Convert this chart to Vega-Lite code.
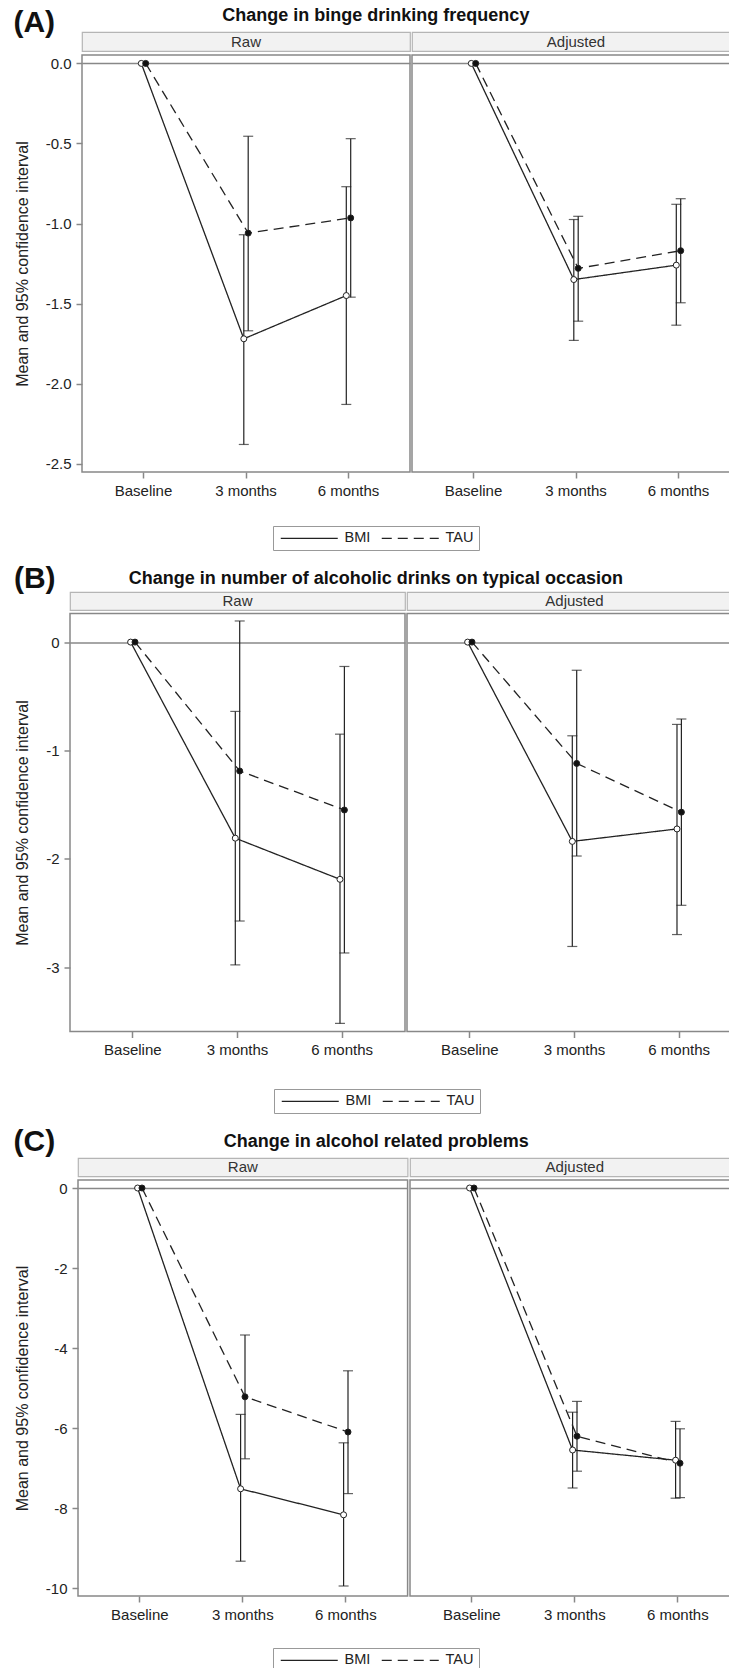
{
  "$schema": "https://vega.github.io/schema/vega-lite/v6.json",
  "padding": {"left": 12, "top": 7, "right": 0, "bottom": 0},
  "spacing": 13,
  "columns": 1,
  "align": "none",
  "config": {
    "font": "Liberation Sans",
    "locale": {"number": {"decimal": ".", "thousands": ",", "grouping": [3], "currency": ["$", ""], "minus": "-"}},
    "view": {"stroke": "#888", "strokeWidth": 1.5},
    "axis": {"labelFontSize": 15, "labelColor": "#222", "tickColor": "#888", "tickWidth": 1.5, "tickSize": 6, "labelPadding": 5, "domain": false, "titleFontSize": 16, "titleFontWeight": "normal", "titleColor": "#222", "titlePadding": 15, "labelAngle": 0},
    "title": {"font": "Liberation Sans", "fontSize": 18, "fontWeight": "bold", "color": "#111"},
    "legend": {"orient": "bottom", "direction": "horizontal", "labelFontSize": 14.5, "labelColor": "#222", "strokeColor": "#999", "padding": 5, "offset": 27, "layout": {"bottom": {"anchor": "middle"}}}
  },
  "resolve": {"scale": {"strokeDash": "independent", "fill": "independent"}, "legend": {"strokeDash": "independent", "fill": "independent"}},
  "datasets": {
    "s": [
      {"panel": "A", "facet": "Raw"}, {"panel": "A", "facet": "Adjusted"},
      {"panel": "B", "facet": "Raw"}, {"panel": "B", "facet": "Adjusted"},
      {"panel": "C", "facet": "Raw"}, {"panel": "C", "facet": "Adjusted"}
    ],
    "d": [
      {"panel": "A", "facet": "Raw", "time": "Baseline", "group": "BMI", "mean": 0, "lower": null, "upper": null},
      {"panel": "A", "facet": "Raw", "time": "3 months", "group": "BMI", "mean": -1.72, "lower": -2.38, "upper": -1.07},
      {"panel": "A", "facet": "Raw", "time": "6 months", "group": "BMI", "mean": -1.45, "lower": -2.13, "upper": -0.77},
      {"panel": "A", "facet": "Raw", "time": "Baseline", "group": "TAU", "mean": 0, "lower": null, "upper": null},
      {"panel": "A", "facet": "Raw", "time": "3 months", "group": "TAU", "mean": -1.06, "lower": -1.67, "upper": -0.455},
      {"panel": "A", "facet": "Raw", "time": "6 months", "group": "TAU", "mean": -0.965, "lower": -1.46, "upper": -0.47},
      {"panel": "A", "facet": "Adjusted", "time": "Baseline", "group": "BMI", "mean": 0, "lower": null, "upper": null},
      {"panel": "A", "facet": "Adjusted", "time": "3 months", "group": "BMI", "mean": -1.35, "lower": -1.73, "upper": -0.975},
      {"panel": "A", "facet": "Adjusted", "time": "6 months", "group": "BMI", "mean": -1.26, "lower": -1.635, "upper": -0.88},
      {"panel": "A", "facet": "Adjusted", "time": "Baseline", "group": "TAU", "mean": 0, "lower": null, "upper": null},
      {"panel": "A", "facet": "Adjusted", "time": "3 months", "group": "TAU", "mean": -1.28, "lower": -1.61, "upper": -0.955},
      {"panel": "A", "facet": "Adjusted", "time": "6 months", "group": "TAU", "mean": -1.17, "lower": -1.495, "upper": -0.845},
      {"panel": "B", "facet": "Raw", "time": "Baseline", "group": "BMI", "mean": 0, "lower": null, "upper": null},
      {"panel": "B", "facet": "Raw", "time": "3 months", "group": "BMI", "mean": -1.81, "lower": -2.98, "upper": -0.64},
      {"panel": "B", "facet": "Raw", "time": "6 months", "group": "BMI", "mean": -2.19, "lower": -3.52, "upper": -0.85},
      {"panel": "B", "facet": "Raw", "time": "Baseline", "group": "TAU", "mean": 0, "lower": null, "upper": null},
      {"panel": "B", "facet": "Raw", "time": "3 months", "group": "TAU", "mean": -1.19, "lower": -2.575, "upper": 0.195},
      {"panel": "B", "facet": "Raw", "time": "6 months", "group": "TAU", "mean": -1.55, "lower": -2.87, "upper": -0.225},
      {"panel": "B", "facet": "Adjusted", "time": "Baseline", "group": "BMI", "mean": 0, "lower": null, "upper": null},
      {"panel": "B", "facet": "Adjusted", "time": "3 months", "group": "BMI", "mean": -1.84, "lower": -2.81, "upper": -0.865},
      {"panel": "B", "facet": "Adjusted", "time": "6 months", "group": "BMI", "mean": -1.725, "lower": -2.7, "upper": -0.76},
      {"panel": "B", "facet": "Adjusted", "time": "Baseline", "group": "TAU", "mean": 0, "lower": null, "upper": null},
      {"panel": "B", "facet": "Adjusted", "time": "3 months", "group": "TAU", "mean": -1.12, "lower": -1.975, "upper": -0.26},
      {"panel": "B", "facet": "Adjusted", "time": "6 months", "group": "TAU", "mean": -1.57, "lower": -2.43, "upper": -0.71},
      {"panel": "C", "facet": "Raw", "time": "Baseline", "group": "BMI", "mean": 0, "lower": null, "upper": null},
      {"panel": "C", "facet": "Raw", "time": "3 months", "group": "BMI", "mean": -7.52, "lower": -9.33, "upper": -5.66},
      {"panel": "C", "facet": "Raw", "time": "6 months", "group": "BMI", "mean": -8.17, "lower": -9.95, "upper": -6.37},
      {"panel": "C", "facet": "Raw", "time": "Baseline", "group": "TAU", "mean": 0, "lower": null, "upper": null},
      {"panel": "C", "facet": "Raw", "time": "3 months", "group": "TAU", "mean": -5.22, "lower": -6.77, "upper": -3.675},
      {"panel": "C", "facet": "Raw", "time": "6 months", "group": "TAU", "mean": -6.1, "lower": -7.64, "upper": -4.57},
      {"panel": "C", "facet": "Adjusted", "time": "Baseline", "group": "BMI", "mean": 0, "lower": null, "upper": null},
      {"panel": "C", "facet": "Adjusted", "time": "3 months", "group": "BMI", "mean": -6.55, "lower": -7.5, "upper": -5.605},
      {"panel": "C", "facet": "Adjusted", "time": "6 months", "group": "BMI", "mean": -6.805, "lower": -7.755, "upper": -5.835},
      {"panel": "C", "facet": "Adjusted", "time": "Baseline", "group": "TAU", "mean": 0, "lower": null, "upper": null},
      {"panel": "C", "facet": "Adjusted", "time": "3 months", "group": "TAU", "mean": -6.205, "lower": -7.08, "upper": -5.335},
      {"panel": "C", "facet": "Adjusted", "time": "6 months", "group": "TAU", "mean": -6.88, "lower": -7.74, "upper": -6.02}
    ]
  },
  "concat": [
    {
      "title": {"text": "Change in binge drinking frequency", "anchor": "middle", "frame": "bounds", "offset": -17, "dx": -0.5},
      "spacing": 0,
      "hconcat": [
        {"width": 1, "height": 1, "data": {"values": [{}]}, "mark": {"type": "text"}, "encoding": {"text": {"value": ""}}, "view": {"stroke": null}},
        {
          "title": {"text": "(A)", "anchor": "start", "frame": "bounds", "fontSize": 30, "offset": -7},
          "spacing": 2,
          "vconcat": [
            {"width": 328, "height": 19, "data": {"name": "s"}, "transform": [{"filter": "datum.panel == 'A' && datum.facet == 'Raw'"}], "view": {"fill": "#f2f2f2", "stroke": "#b5b5b5", "strokeWidth": 1.2}, "mark": {"type": "text", "fontSize": 15, "color": "#333"}, "encoding": {"text": {"field": "facet"}}},
            {
              "width": 328, "height": 417,
              "data": {"name": "d"},
              "transform": [{"filter": "datum.panel == 'A' && datum.facet == 'Raw'"}],
              "encoding": {
                "x": {"field": "time", "type": "nominal", "sort": ["Baseline", "3 months", "6 months"], "title": null, "scale": {"type": "band", "paddingInner": 0.914146, "paddingOuter": 0.557073, "round": false}},
                "xOffset": {"field": "group", "type": "nominal", "scale": {"paddingInner": 0, "paddingOuter": 0}}
              },
              "layer": [
                {"transform": [{"filter": "datum.lower != null"}], "mark": {"type": "rule", "color": "#222", "strokeWidth": 1.2},
                 "encoding": {"y": {"field": "lower", "type": "quantitative", "title": "Mean and 95% confidence interval", "scale": {"domain": [-2.552, 0.0525], "nice": false, "zero": false}, "axis": {"values": [0, -0.5, -1, -1.5, -2, -2.5], "format": ".1f", "grid": true, "gridColor": "#888", "gridWidth": 1.5, "gridOpacity": {"condition": {"test": "datum.value == 0", "value": 1}, "value": 0}}}, "y2": {"field": "upper"}}},
                {"transform": [{"filter": "datum.lower != null"}], "mark": {"type": "tick", "size": 10, "thickness": 1.2, "color": "#222"},
                 "encoding": {"y": {"field": "lower", "type": "quantitative", "title": "Mean and 95% confidence interval", "scale": {"domain": [-2.552, 0.0525], "nice": false, "zero": false}}}},
                {"transform": [{"filter": "datum.lower != null"}], "mark": {"type": "tick", "size": 10, "thickness": 1.2, "color": "#222"},
                 "encoding": {"y": {"field": "upper", "type": "quantitative", "title": "Mean and 95% confidence interval", "scale": {"domain": [-2.552, 0.0525], "nice": false, "zero": false}}}},
                {"mark": {"type": "line", "color": "#222", "strokeWidth": 1.3},
                 "encoding": {"y": {"field": "mean", "type": "quantitative", "title": "Mean and 95% confidence interval", "scale": {"domain": [-2.552, 0.0525], "nice": false, "zero": false}},
                   "strokeDash": {"field": "group", "type": "nominal", "scale": {"domain": ["BMI", "TAU"], "range": [[1, 0], [10, 6]]}, "legend": {"title": null, "symbolType": "M-5.7,0H5.7", "symbolSize": 100, "symbolStrokeWidth": 1.3, "symbolStrokeColor": "#222", "symbolOffset": 24, "labelOffset": 28, "columnPadding": 8}}}},
                {"mark": {"type": "point", "filled": true, "size": 36, "stroke": "#222", "strokeWidth": 1, "opacity": 1},
                 "encoding": {"y": {"field": "mean", "type": "quantitative", "title": "Mean and 95% confidence interval", "scale": {"domain": [-2.552, 0.0525], "nice": false, "zero": false}},
                   "fill": {"field": "group", "type": "nominal", "scale": {"domain": ["BMI", "TAU"], "range": ["#ffffff", "#111111"]}, "legend": null}}}
              ]
            }
          ]
        },
        {
          "spacing": 2,
          "vconcat": [
            {"width": 328, "height": 19, "data": {"name": "s"}, "transform": [{"filter": "datum.panel == 'A' && datum.facet == 'Adjusted'"}], "view": {"fill": "#f2f2f2", "stroke": "#b5b5b5", "strokeWidth": 1.2}, "mark": {"type": "text", "fontSize": 15, "color": "#333"}, "encoding": {"text": {"field": "facet"}}},
            {
              "width": 328, "height": 417,
              "data": {"name": "d"},
              "transform": [{"filter": "datum.panel == 'A' && datum.facet == 'Adjusted'"}],
              "encoding": {
                "x": {"field": "time", "type": "nominal", "sort": ["Baseline", "3 months", "6 months"], "title": null, "scale": {"type": "band", "paddingInner": 0.914146, "paddingOuter": 0.557073, "round": false}},
                "xOffset": {"field": "group", "type": "nominal", "scale": {"paddingInner": 0, "paddingOuter": 0}}
              },
              "layer": [
                {"transform": [{"filter": "datum.lower != null"}], "mark": {"type": "rule", "color": "#222", "strokeWidth": 1.2},
                 "encoding": {"y": {"field": "lower", "type": "quantitative", "title": null, "scale": {"domain": [-2.552, 0.0525], "nice": false, "zero": false}, "axis": {"values": [0], "labels": false, "ticks": false, "title": null, "grid": true, "gridColor": "#888", "gridWidth": 1.5}}, "y2": {"field": "upper"}}},
                {"transform": [{"filter": "datum.lower != null"}], "mark": {"type": "tick", "size": 10, "thickness": 1.2, "color": "#222"},
                 "encoding": {"y": {"field": "lower", "type": "quantitative", "title": null, "scale": {"domain": [-2.552, 0.0525], "nice": false, "zero": false}}}},
                {"transform": [{"filter": "datum.lower != null"}], "mark": {"type": "tick", "size": 10, "thickness": 1.2, "color": "#222"},
                 "encoding": {"y": {"field": "upper", "type": "quantitative", "title": null, "scale": {"domain": [-2.552, 0.0525], "nice": false, "zero": false}}}},
                {"mark": {"type": "line", "color": "#222", "strokeWidth": 1.3},
                 "encoding": {"y": {"field": "mean", "type": "quantitative", "title": null, "scale": {"domain": [-2.552, 0.0525], "nice": false, "zero": false}},
                   "strokeDash": {"field": "group", "type": "nominal", "scale": {"domain": ["BMI", "TAU"], "range": [[1, 0], [10, 6]]}, "legend": {"title": null, "symbolType": "M-5.7,0H5.7", "symbolSize": 100, "symbolStrokeWidth": 1.3, "symbolStrokeColor": "#222", "symbolOffset": 24, "labelOffset": 28, "columnPadding": 8}}}},
                {"mark": {"type": "point", "filled": true, "size": 36, "stroke": "#222", "strokeWidth": 1, "opacity": 1},
                 "encoding": {"y": {"field": "mean", "type": "quantitative", "title": null, "scale": {"domain": [-2.552, 0.0525], "nice": false, "zero": false}},
                   "fill": {"field": "group", "type": "nominal", "scale": {"domain": ["BMI", "TAU"], "range": ["#ffffff", "#111111"]}, "legend": null}}}
              ]
            }
          ]
        }
      ]
    },
    {
      "title": {"text": "Change in number of alcoholic drinks on typical occasion", "anchor": "middle", "frame": "bounds", "offset": -24, "dx": -1.5},
      "spacing": 0,
      "hconcat": [
        {"width": 1, "height": 1, "data": {"values": [{}]}, "mark": {"type": "text"}, "encoding": {"text": {"value": ""}}, "view": {"stroke": null}},
        {
          "title": {"text": "(B)", "anchor": "start", "frame": "bounds", "fontSize": 30, "offset": -3},
          "spacing": 1.5,
          "vconcat": [
            {"width": 335, "height": 18, "data": {"name": "s"}, "transform": [{"filter": "datum.panel == 'B' && datum.facet == 'Raw'"}], "view": {"fill": "#f2f2f2", "stroke": "#b5b5b5", "strokeWidth": 1.2}, "mark": {"type": "text", "fontSize": 15, "color": "#333"}, "encoding": {"text": {"field": "facet"}}},
            {
              "width": 335, "height": 418,
              "data": {"name": "d"},
              "transform": [{"filter": "datum.panel == 'B' && datum.facet == 'Raw'"}],
              "encoding": {
                "x": {"field": "time", "type": "nominal", "sort": ["Baseline", "3 months", "6 months"], "title": null, "scale": {"type": "band", "paddingInner": 0.91595, "paddingOuter": 0.557975, "round": false}},
                "xOffset": {"field": "group", "type": "nominal", "scale": {"paddingInner": 0, "paddingOuter": 0}}
              },
              "layer": [
                {"transform": [{"filter": "datum.lower != null"}], "mark": {"type": "rule", "color": "#222", "strokeWidth": 1.2},
                 "encoding": {"y": {"field": "lower", "type": "quantitative", "title": "Mean and 95% confidence interval", "scale": {"domain": [-3.595, 0.264], "nice": false, "zero": false}, "axis": {"values": [0, -1, -2, -3], "format": "d", "grid": true, "gridColor": "#888", "gridWidth": 1.5, "gridOpacity": {"condition": {"test": "datum.value == 0", "value": 1}, "value": 0}}}, "y2": {"field": "upper"}}},
                {"transform": [{"filter": "datum.lower != null"}], "mark": {"type": "tick", "size": 10, "thickness": 1.2, "color": "#222"},
                 "encoding": {"y": {"field": "lower", "type": "quantitative", "title": "Mean and 95% confidence interval", "scale": {"domain": [-3.595, 0.264], "nice": false, "zero": false}}}},
                {"transform": [{"filter": "datum.lower != null"}], "mark": {"type": "tick", "size": 10, "thickness": 1.2, "color": "#222"},
                 "encoding": {"y": {"field": "upper", "type": "quantitative", "title": "Mean and 95% confidence interval", "scale": {"domain": [-3.595, 0.264], "nice": false, "zero": false}}}},
                {"mark": {"type": "line", "color": "#222", "strokeWidth": 1.3},
                 "encoding": {"y": {"field": "mean", "type": "quantitative", "title": "Mean and 95% confidence interval", "scale": {"domain": [-3.595, 0.264], "nice": false, "zero": false}},
                   "strokeDash": {"field": "group", "type": "nominal", "scale": {"domain": ["BMI", "TAU"], "range": [[1, 0], [10, 6]]}, "legend": {"title": null, "offset": 30, "symbolType": "M-5.7,0H5.7", "symbolSize": 100, "symbolStrokeWidth": 1.3, "symbolStrokeColor": "#222", "symbolOffset": 24, "labelOffset": 28, "columnPadding": 8}}}},
                {"mark": {"type": "point", "filled": true, "size": 36, "stroke": "#222", "strokeWidth": 1, "opacity": 1},
                 "encoding": {"y": {"field": "mean", "type": "quantitative", "title": "Mean and 95% confidence interval", "scale": {"domain": [-3.595, 0.264], "nice": false, "zero": false}},
                   "fill": {"field": "group", "type": "nominal", "scale": {"domain": ["BMI", "TAU"], "range": ["#ffffff", "#111111"]}, "legend": null}}}
              ]
            }
          ]
        },
        {
          "spacing": 1.5,
          "vconcat": [
            {"width": 335, "height": 18, "data": {"name": "s"}, "transform": [{"filter": "datum.panel == 'B' && datum.facet == 'Adjusted'"}], "view": {"fill": "#f2f2f2", "stroke": "#b5b5b5", "strokeWidth": 1.2}, "mark": {"type": "text", "fontSize": 15, "color": "#333"}, "encoding": {"text": {"field": "facet"}}},
            {
              "width": 335, "height": 418,
              "data": {"name": "d"},
              "transform": [{"filter": "datum.panel == 'B' && datum.facet == 'Adjusted'"}],
              "encoding": {
                "x": {"field": "time", "type": "nominal", "sort": ["Baseline", "3 months", "6 months"], "title": null, "scale": {"type": "band", "paddingInner": 0.91595, "paddingOuter": 0.557975, "round": false}},
                "xOffset": {"field": "group", "type": "nominal", "scale": {"paddingInner": 0, "paddingOuter": 0}}
              },
              "layer": [
                {"transform": [{"filter": "datum.lower != null"}], "mark": {"type": "rule", "color": "#222", "strokeWidth": 1.2},
                 "encoding": {"y": {"field": "lower", "type": "quantitative", "title": null, "scale": {"domain": [-3.595, 0.264], "nice": false, "zero": false}, "axis": {"values": [0], "labels": false, "ticks": false, "title": null, "grid": true, "gridColor": "#888", "gridWidth": 1.5}}, "y2": {"field": "upper"}}},
                {"transform": [{"filter": "datum.lower != null"}], "mark": {"type": "tick", "size": 10, "thickness": 1.2, "color": "#222"},
                 "encoding": {"y": {"field": "lower", "type": "quantitative", "title": null, "scale": {"domain": [-3.595, 0.264], "nice": false, "zero": false}}}},
                {"transform": [{"filter": "datum.lower != null"}], "mark": {"type": "tick", "size": 10, "thickness": 1.2, "color": "#222"},
                 "encoding": {"y": {"field": "upper", "type": "quantitative", "title": null, "scale": {"domain": [-3.595, 0.264], "nice": false, "zero": false}}}},
                {"mark": {"type": "line", "color": "#222", "strokeWidth": 1.3},
                 "encoding": {"y": {"field": "mean", "type": "quantitative", "title": null, "scale": {"domain": [-3.595, 0.264], "nice": false, "zero": false}},
                   "strokeDash": {"field": "group", "type": "nominal", "scale": {"domain": ["BMI", "TAU"], "range": [[1, 0], [10, 6]]}, "legend": {"title": null, "offset": 30, "symbolType": "M-5.7,0H5.7", "symbolSize": 100, "symbolStrokeWidth": 1.3, "symbolStrokeColor": "#222", "symbolOffset": 24, "labelOffset": 28, "columnPadding": 8}}}},
                {"mark": {"type": "point", "filled": true, "size": 36, "stroke": "#222", "strokeWidth": 1, "opacity": 1},
                 "encoding": {"y": {"field": "mean", "type": "quantitative", "title": null, "scale": {"domain": [-3.595, 0.264], "nice": false, "zero": false}},
                   "fill": {"field": "group", "type": "nominal", "scale": {"domain": ["BMI", "TAU"], "range": ["#ffffff", "#111111"]}, "legend": null}}}
              ]
            }
          ]
        }
      ]
    },
    {
      "title": {"text": "Change in alcohol related problems", "anchor": "middle", "frame": "bounds", "offset": -24, "dx": 0},
      "spacing": 0,
      "hconcat": [
        {"width": 1, "height": 1, "data": {"values": [{}]}, "mark": {"type": "text"}, "encoding": {"text": {"value": ""}}, "view": {"stroke": null}},
        {
          "title": {"text": "(C)", "anchor": "start", "frame": "bounds", "fontSize": 30, "offset": 0},
          "spacing": 2,
          "vconcat": [
            {"width": 329.6, "height": 18.4, "data": {"name": "s"}, "transform": [{"filter": "datum.panel == 'C' && datum.facet == 'Raw'"}], "view": {"fill": "#f2f2f2", "stroke": "#b5b5b5", "strokeWidth": 1.2}, "mark": {"type": "text", "fontSize": 15, "color": "#333"}, "encoding": {"text": {"field": "facet"}}},
            {
              "width": 329.6, "height": 416,
              "data": {"name": "d"},
              "transform": [{"filter": "datum.panel == 'C' && datum.facet == 'Raw'"}],
              "encoding": {
                "x": {"field": "time", "type": "nominal", "sort": ["Baseline", "3 months", "6 months"], "title": null, "scale": {"type": "band", "paddingInner": 0.914563, "paddingOuter": 0.557282, "round": false}},
                "xOffset": {"field": "group", "type": "nominal", "scale": {"paddingInner": 0, "paddingOuter": 0}}
              },
              "layer": [
                {"transform": [{"filter": "datum.lower != null"}], "mark": {"type": "rule", "color": "#222", "strokeWidth": 1.2},
                 "encoding": {"y": {"field": "lower", "type": "quantitative", "title": "Mean and 95% confidence interval", "scale": {"domain": [-10.2, 0.2], "nice": false, "zero": false}, "axis": {"values": [0, -2, -4, -6, -8, -10], "format": "d", "grid": true, "gridColor": "#888", "gridWidth": 1.5, "gridOpacity": {"condition": {"test": "datum.value == 0", "value": 1}, "value": 0}}}, "y2": {"field": "upper"}}},
                {"transform": [{"filter": "datum.lower != null"}], "mark": {"type": "tick", "size": 10, "thickness": 1.2, "color": "#222"},
                 "encoding": {"y": {"field": "lower", "type": "quantitative", "title": "Mean and 95% confidence interval", "scale": {"domain": [-10.2, 0.2], "nice": false, "zero": false}}}},
                {"transform": [{"filter": "datum.lower != null"}], "mark": {"type": "tick", "size": 10, "thickness": 1.2, "color": "#222"},
                 "encoding": {"y": {"field": "upper", "type": "quantitative", "title": "Mean and 95% confidence interval", "scale": {"domain": [-10.2, 0.2], "nice": false, "zero": false}}}},
                {"mark": {"type": "line", "color": "#222", "strokeWidth": 1.3},
                 "encoding": {"y": {"field": "mean", "type": "quantitative", "title": "Mean and 95% confidence interval", "scale": {"domain": [-10.2, 0.2], "nice": false, "zero": false}},
                   "strokeDash": {"field": "group", "type": "nominal", "scale": {"domain": ["BMI", "TAU"], "range": [[1, 0], [10, 6]]}, "legend": {"title": null, "offset": 25, "symbolType": "M-5.7,0H5.7", "symbolSize": 100, "symbolStrokeWidth": 1.3, "symbolStrokeColor": "#222", "symbolOffset": 24, "labelOffset": 28, "columnPadding": 8}}}},
                {"mark": {"type": "point", "filled": true, "size": 36, "stroke": "#222", "strokeWidth": 1, "opacity": 1},
                 "encoding": {"y": {"field": "mean", "type": "quantitative", "title": "Mean and 95% confidence interval", "scale": {"domain": [-10.2, 0.2], "nice": false, "zero": false}},
                   "fill": {"field": "group", "type": "nominal", "scale": {"domain": ["BMI", "TAU"], "range": ["#ffffff", "#111111"]}, "legend": null}}}
              ]
            }
          ]
        },
        {
          "spacing": 2,
          "vconcat": [
            {"width": 329.6, "height": 18.4, "data": {"name": "s"}, "transform": [{"filter": "datum.panel == 'C' && datum.facet == 'Adjusted'"}], "view": {"fill": "#f2f2f2", "stroke": "#b5b5b5", "strokeWidth": 1.2}, "mark": {"type": "text", "fontSize": 15, "color": "#333"}, "encoding": {"text": {"field": "facet"}}},
            {
              "width": 329.6, "height": 416,
              "data": {"name": "d"},
              "transform": [{"filter": "datum.panel == 'C' && datum.facet == 'Adjusted'"}],
              "encoding": {
                "x": {"field": "time", "type": "nominal", "sort": ["Baseline", "3 months", "6 months"], "title": null, "scale": {"type": "band", "paddingInner": 0.914563, "paddingOuter": 0.557282, "round": false}},
                "xOffset": {"field": "group", "type": "nominal", "scale": {"paddingInner": 0, "paddingOuter": 0}}
              },
              "layer": [
                {"transform": [{"filter": "datum.lower != null"}], "mark": {"type": "rule", "color": "#222", "strokeWidth": 1.2},
                 "encoding": {"y": {"field": "lower", "type": "quantitative", "title": null, "scale": {"domain": [-10.2, 0.2], "nice": false, "zero": false}, "axis": {"values": [0], "labels": false, "ticks": false, "title": null, "grid": true, "gridColor": "#888", "gridWidth": 1.5}}, "y2": {"field": "upper"}}},
                {"transform": [{"filter": "datum.lower != null"}], "mark": {"type": "tick", "size": 10, "thickness": 1.2, "color": "#222"},
                 "encoding": {"y": {"field": "lower", "type": "quantitative", "title": null, "scale": {"domain": [-10.2, 0.2], "nice": false, "zero": false}}}},
                {"transform": [{"filter": "datum.lower != null"}], "mark": {"type": "tick", "size": 10, "thickness": 1.2, "color": "#222"},
                 "encoding": {"y": {"field": "upper", "type": "quantitative", "title": null, "scale": {"domain": [-10.2, 0.2], "nice": false, "zero": false}}}},
                {"mark": {"type": "line", "color": "#222", "strokeWidth": 1.3},
                 "encoding": {"y": {"field": "mean", "type": "quantitative", "title": null, "scale": {"domain": [-10.2, 0.2], "nice": false, "zero": false}},
                   "strokeDash": {"field": "group", "type": "nominal", "scale": {"domain": ["BMI", "TAU"], "range": [[1, 0], [10, 6]]}, "legend": {"title": null, "offset": 25, "symbolType": "M-5.7,0H5.7", "symbolSize": 100, "symbolStrokeWidth": 1.3, "symbolStrokeColor": "#222", "symbolOffset": 24, "labelOffset": 28, "columnPadding": 8}}}},
                {"mark": {"type": "point", "filled": true, "size": 36, "stroke": "#222", "strokeWidth": 1, "opacity": 1},
                 "encoding": {"y": {"field": "mean", "type": "quantitative", "title": null, "scale": {"domain": [-10.2, 0.2], "nice": false, "zero": false}},
                   "fill": {"field": "group", "type": "nominal", "scale": {"domain": ["BMI", "TAU"], "range": ["#ffffff", "#111111"]}, "legend": null}}}
              ]
            }
          ]
        }
      ]
    }
  ]
}
